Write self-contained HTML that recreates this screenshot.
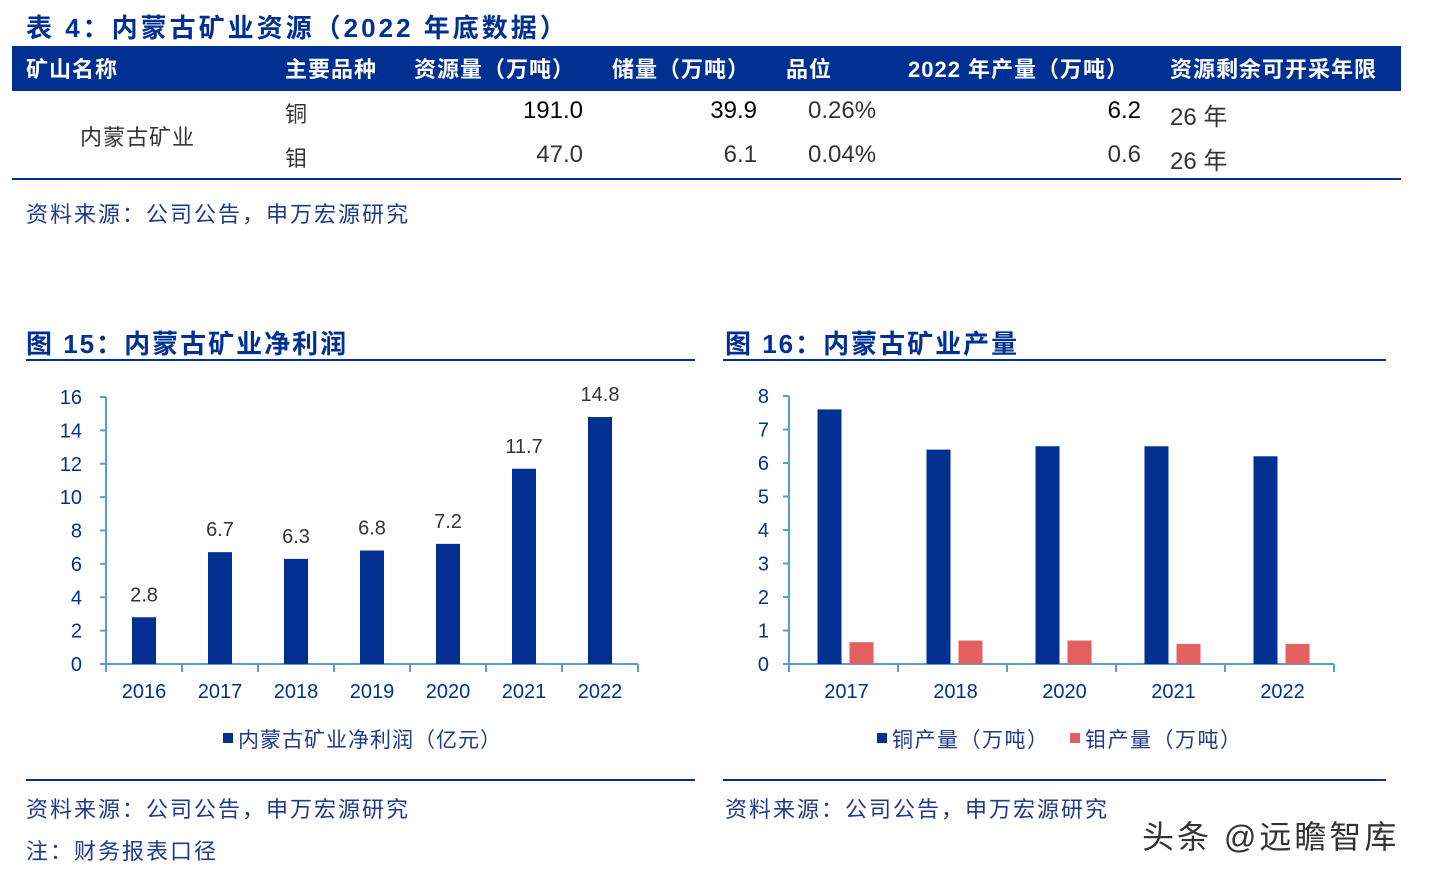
<!DOCTYPE html>
<html><head><meta charset="utf-8"><style>
body{margin:0;width:1431px;height:879px;background:#fff;position:relative;overflow:hidden;font-family:"Liberation Sans","Noto Sans CJK SC",sans-serif}
.a{position:absolute;white-space:nowrap}
.ttl{color:#003092;font-weight:bold;font-size:26px;letter-spacing:2px}
.hd{color:#fff;font-weight:bold;font-size:22px;top:52px;letter-spacing:1px}
.cell{font-size:22px;color:#333}
.num{font-size:24px}
.src{color:#1f3a8c;font-size:22px;letter-spacing:2px}
</style></head><body>
<div class="a ttl" style="left:26px;top:8px;letter-spacing:3px">表 4：内蒙古矿业资源（2022 年底数据）</div>
<div class="a" style="left:12px;top:46px;width:1389px;height:45px;background:#003092"></div>
<div class="a hd" style="left:26px">矿山名称</div>
<div class="a hd" style="left:285px">主要品种</div>
<div class="a hd" style="left:414px">资源量（万吨）</div>
<div class="a hd" style="left:612px">储量（万吨）</div>
<div class="a hd" style="left:786px">品位</div>
<div class="a hd" style="left:908px">2022 年产量（万吨）</div>
<div class="a hd" style="left:1170px">资源剩余可开采年限</div>
<div class="a cell" style="left:80px;top:120px;letter-spacing:1px">内蒙古矿业</div>
<div class="a cell" style="left:285px;top:97px">铜</div>
<div class="a cell" style="left:285px;top:141px">钼</div>
<div class="a cell num" style="left:480px;width:103px;text-align:right;top:97px;color:#000">191.0</div>
<div class="a cell num" style="left:480px;width:103px;text-align:right;top:141px">47.0</div>
<div class="a cell num" style="left:660px;width:97px;text-align:right;top:97px;color:#000">39.9</div>
<div class="a cell num" style="left:660px;width:97px;text-align:right;top:141px">6.1</div>
<div class="a cell num" style="left:808px;top:97px">0.26%</div>
<div class="a cell num" style="left:808px;top:141px">0.04%</div>
<div class="a cell num" style="left:1040px;width:101px;text-align:right;top:97px;color:#000">6.2</div>
<div class="a cell num" style="left:1040px;width:101px;text-align:right;top:141px">0.6</div>
<div class="a cell num" style="left:1170px;top:97px">26 年</div>
<div class="a cell num" style="left:1170px;top:141px">26 年</div>
<div class="a" style="left:12px;top:178px;width:1389px;height:2px;background:#003092"></div>
<div class="a src" style="left:26px;top:197px">资料来源：公司公告，申万宏源研究</div>

<div class="a ttl" style="left:26px;top:324px">图 15：内蒙古矿业净利润</div>
<div class="a" style="left:26px;top:359px;width:669px;height:2px;background:#003092"></div>
<div class="a ttl" style="left:725px;top:324px">图 16：内蒙古矿业产量</div>
<div class="a" style="left:723px;top:359px;width:663px;height:2px;background:#003092"></div>

<svg class="a" style="left:0;top:0" width="1431" height="879" id="svg"></svg>

<div class="a" style="left:26px;top:779px;width:669px;height:2px;background:#003092"></div>
<div class="a" style="left:723px;top:779px;width:663px;height:2px;background:#003092"></div>
<div class="a src" style="left:26px;top:792px">资料来源：公司公告，申万宏源研究</div>
<div class="a src" style="left:26px;top:834px">注：财务报表口径</div>
<div class="a src" style="left:725px;top:792px">资料来源：公司公告，申万宏源研究</div>
<div class="a" style="left:1142px;top:812px;font-size:32px;color:#333;letter-spacing:3px">头条 @远瞻智库</div>

<script>
const years1=["2016","2017","2018","2019","2020","2021","2022"];
const profit=[2.8,6.7,6.3,6.8,7.2,11.7,14.8];
const ticks1=[0,2,4,6,8,10,12,14,16];
const years2=["2017","2018","2020","2021","2022"];
const copper=[7.6,6.4,6.5,6.5,6.2];
const moly=[0.65,0.7,0.7,0.6,0.6];
const ticks2=[0,1,2,3,4,5,6,7,8];
const svg=document.getElementById('svg');
const NS='http://www.w3.org/2000/svg';
function mk(t,a,txt){const e=document.createElementNS(NS,t);for(const k in a)e.setAttribute(k,a[k]);if(txt!=null)e.textContent=txt;svg.appendChild(e);return e;}
const ax='#5b9bd5';
// chart 1
{const x0=106,x1=638,y0=664,yT=397,max=16;const y=v=>y0-(y0-yT)*v/max;const bw=(x1-x0)/years1.length;
let e=mk('line',{x1:x0,y1:yT,x2:x0,y2:y0,stroke:ax,'stroke-width':2});
e=mk('line',{x1:x0,y1:y0,x2:x1,y2:y0,stroke:ax,'stroke-width':2});
ticks1.forEach(t=>{mk('line',{x1:x0-6,y1:y(t),x2:x0,y2:y(t),stroke:ax,'stroke-width':2});
const l=mk('text',{x:x0-24,y:y(t)+7,'text-anchor':'end','font-size':20,fill:'#003092'},t);});
for(let i=0;i<=years1.length;i++)mk('line',{x1:x0+i*bw,y1:y0,x2:x0+i*bw,y2:y0+8,stroke:ax,'stroke-width':2});
years1.forEach((c,i)=>{const cx=x0+bw*(i+0.5);
const b=mk('rect',{x:cx-12,y:y(profit[i]),width:24,height:y0-y(profit[i]),fill:'#003092'});
const v=mk('text',{x:cx,y:y(profit[i])-16,'text-anchor':'middle','font-size':20,fill:'#333'},profit[i].toFixed(1));
const l=mk('text',{x:cx,y:y0+34,'text-anchor':'middle','font-size':20,fill:'#003092'},c);});
mk('rect',{x:223,y:733,width:10,height:10,fill:'#003092'});
const lg=mk('text',{x:238,y:747,'font-size':21,fill:'#1f3a8c','letter-spacing':1},'内蒙古矿业净利润（亿元）');}
// chart 2
{const x0=789,x1=1334,y0=664,yT=396,max=8;const y=v=>y0-(y0-yT)*v/max;const bw=(x1-x0)/years2.length;
let e=mk('line',{x1:x0,y1:yT,x2:x0,y2:y0,stroke:ax,'stroke-width':2});
e=mk('line',{x1:x0,y1:y0,x2:x1,y2:y0,stroke:ax,'stroke-width':2});
ticks2.forEach(t=>{mk('line',{x1:x0-6,y1:y(t),x2:x0,y2:y(t),stroke:ax,'stroke-width':2});
const l=mk('text',{x:x0-20,y:y(t)+7,'text-anchor':'end','font-size':20,fill:'#003092'},t);});
for(let i=0;i<=years2.length;i++)mk('line',{x1:x0+i*bw,y1:y0,x2:x0+i*bw,y2:y0+8,stroke:ax,'stroke-width':2});
years2.forEach((c,i)=>{const cx=x0+bw*(i+0.5);
const b=mk('rect',{x:cx-26,y:y(copper[i]),width:24,height:y0-y(copper[i]),fill:'#003092'});
const m=mk('rect',{x:cx+6,y:y(moly[i]),width:24,height:y0-y(moly[i]),fill:'#e45f5f'});
const l=mk('text',{x:cx+3,y:y0+34,'text-anchor':'middle','font-size':20,fill:'#003092'},c);});
mk('rect',{x:877,y:733,width:10,height:10,fill:'#003092'});
let lg=mk('text',{x:892,y:747,'font-size':21,fill:'#1f3a8c','letter-spacing':1.5},'铜产量（万吨）');
mk('rect',{x:1070,y:733,width:10,height:10,fill:'#e45f5f'});
lg=mk('text',{x:1085,y:747,'font-size':21,fill:'#1f3a8c','letter-spacing':1.5},'钼产量（万吨）');}
</script>
</body></html>
